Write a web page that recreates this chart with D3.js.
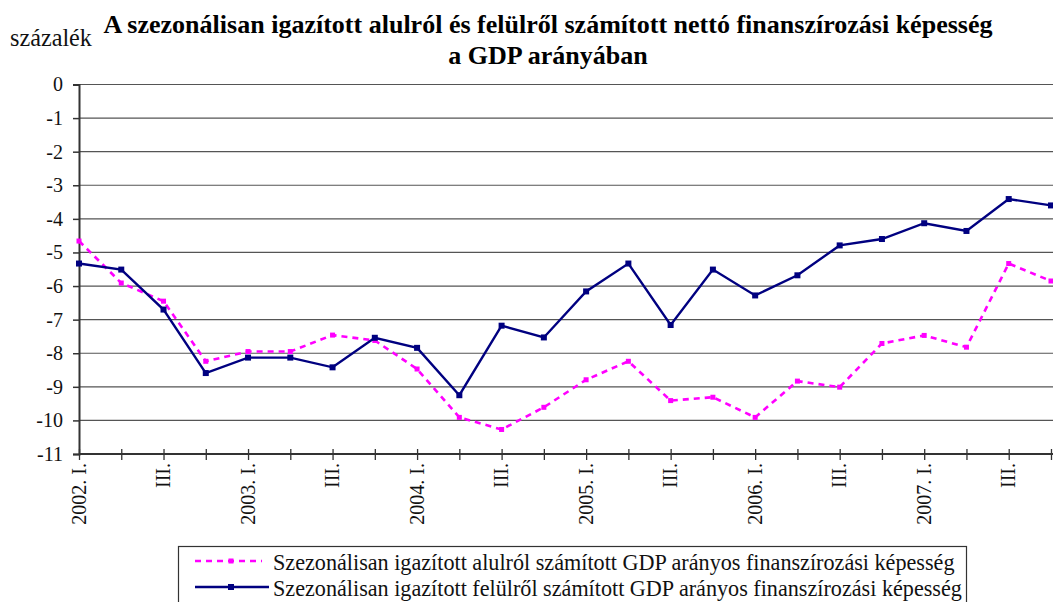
<!DOCTYPE html>
<html>
<head>
<meta charset="utf-8">
<script src="https://cdn.jsdelivr.net/npm/d3@7"></script>
<style>
  body { margin: 0; background: #fff; }
</style>
</head>
<body>
<svg width="1053" height="602" font-family="Liberation Serif, serif"></svg>
<script>
// quarters shown on the x axis
var quarters = ["2002. I.", "2002. II.", "2002. III.", "2002. IV.",
                "2003. I.", "2003. II.", "2003. III.", "2003. IV.",
                "2004. I.", "2004. II.", "2004. III.", "2004. IV.",
                "2005. I.", "2005. II.", "2005. III.", "2005. IV.",
                "2006. I.", "2006. II.", "2006. III.", "2006. IV.",
                "2007. I.", "2007. II.", "2007. III.", "2007. IV."];
var tickLabels = ["2002. I.", "", "III.", "", "2003. I.", "", "III.", "",
                  "2004. I.", "", "III.", "", "2005. I.", "", "III.", "",
                  "2006. I.", "", "III.", "", "2007. I.", "", "III.", ""];
// alulról (bottom-up), pink dashed
var bottomUp = [-4.66, -5.91, -6.45, -8.24, -7.95, -7.95, -7.46, -7.62,
                -8.47, -9.91, -10.27, -9.61, -8.79, -8.24, -9.41, -9.31,
                -9.91, -8.83, -9.01, -7.71, -7.47, -7.82, -5.33, -5.85];
// felülről (top-down), navy solid
var topDown = [-5.33, -5.51, -6.70, -8.59, -8.13, -8.13, -8.42, -7.54,
               -7.84, -9.25, -7.18, -7.53, -6.16, -5.33, -7.16, -5.51,
               -6.28, -5.68, -4.79, -4.60, -4.13, -4.36, -3.41, -3.60];
var yTicks = [0, -1, -2, -3, -4, -5, -6, -7, -8, -9, -10, -11];

var FONT = "'Liberation Serif', serif";
var svg = d3.select("svg");

var x = d3.scalePoint()
    .domain(quarters)
    .range([79, 79 + 23 * 42.26]);

var y = d3.scaleLinear()
    .domain([-11, 0])
    .range([454, 84.5]);

// shrink / grow a text so it spans the given width
function fitWidth(sel, target) {
    var fs = parseFloat(sel.attr("font-size"));
    var w = sel.node().getComputedTextLength();
    sel.attr("font-size", (fs * target / w).toFixed(2));
}

// title
var t1 = svg.append("text")
    .attr("x", 548).attr("y", 33)
    .attr("text-anchor", "middle")
    .attr("font-family", FONT)
    .attr("font-weight", "bold")
    .attr("font-size", 22)
    .text("A szezonálisan igazított alulról és felülről számított nettó finanszírozási képesség");
fitWidth(t1, 889);
svg.append("text")
    .attr("x", 548).attr("y", 64)
    .attr("text-anchor", "middle")
    .attr("font-family", FONT)
    .attr("font-weight", "bold")
    .attr("font-size", t1.attr("font-size"))
    .text("a GDP arányában");

var unit = svg.append("text")
    .attr("x", 10).attr("y", 46)
    .attr("font-family", FONT)
    .attr("font-size", 20)
    .attr("fill", "#111")
    .text("százalék");
fitWidth(unit, 82);

// horizontal grid
svg.append("g")
    .selectAll("line")
    .data(yTicks.filter(function (d) { return d > -11; }))
    .enter()
    .append("line")
    .attr("x1", 79).attr("x2", 1053)
    .attr("y1", function (d) { return y(d); })
    .attr("y2", function (d) { return y(d); })
    .style("stroke", "#555")
    .style("stroke-width", 1.2);

// y axis
var yAxis = svg.append("g")
    .attr("transform", "translate(79,0)")
    .call(d3.axisLeft(y).tickValues(yTicks).tickSize(6).tickPadding(10)
        .tickFormat(function (d) { return d; }));
yAxis.attr("font-family", FONT).attr("font-size", 20);
yAxis.select(".domain").style("stroke", "#333").style("stroke-width", 2);
yAxis.selectAll(".tick line").style("stroke", "#333").style("stroke-width", 1.5);
yAxis.selectAll(".tick text")
    .attr("fill", "#111")
    .style("font-family", FONT)
    .style("font-size", "20px");

// x axis
var xAxis = svg.append("g")
    .attr("transform", "translate(0," + y(-11) + ")")
    .call(d3.axisBottom(x).tickSize(0).tickFormat(function (d, i) { return tickLabels[i]; }));
xAxis.attr("font-family", FONT).attr("font-size", 20);
xAxis.select(".domain").attr("d", "M79,0H1053").style("stroke", "#333").style("stroke-width", 2.2);
xAxis.selectAll(".tick line").remove();
xAxis.selectAll(".tick").append("line")
    .attr("y1", -5).attr("y2", 6)
    .style("stroke", "#333").style("stroke-width", 1.3);
xAxis.selectAll(".tick text")
    .attr("fill", "#111")
    .style("font-family", FONT)
    .style("font-size", "20px")
    .attr("text-anchor", "end")
    .attr("dy", null)
    .attr("transform", "rotate(-90)")
    .attr("x", -9)
    .attr("y", 6);

// lines
var line = d3.line()
    .x(function (d, i) { return x(quarters[i]); })
    .y(function (d) { return y(d); });

svg.append("path")
    .datum(bottomUp)
    .attr("d", line)
    .style("fill", "none")
    .style("stroke", "#ff00ff")
    .style("stroke-width", 2.6)
    .style("stroke-dasharray", "6,5");

svg.append("g")
    .selectAll("rect")
    .data(bottomUp)
    .enter()
    .append("rect")
    .attr("x", function (d, i) { return x(quarters[i]) - 2.5; })
    .attr("y", function (d) { return y(d) - 2.5; })
    .attr("width", 5).attr("height", 5)
    .attr("fill", "#ff00ff");

svg.append("path")
    .datum(topDown)
    .attr("d", line)
    .style("fill", "none")
    .style("stroke", "#000080")
    .style("stroke-width", 2.4);

svg.append("g")
    .selectAll("rect")
    .data(topDown)
    .enter()
    .append("rect")
    .attr("x", function (d, i) { return x(quarters[i]) - 3; })
    .attr("y", function (d) { return y(d) - 3; })
    .attr("width", 6).attr("height", 6)
    .attr("fill", "#000080");

// legend
var legend = svg.append("g");
legend.append("rect")
    .attr("x", 178.5).attr("y", 546.5)
    .attr("width", 788).attr("height", 70)
    .attr("fill", "#fff")
    .style("stroke", "#333").style("stroke-width", 1.2);

var legendItems = [
    {name: "Szezonálisan igazított alulról számított GDP arányos finanszírozási képesség",
     color: "#ff00ff", dash: "6,5", y: 561, x2: 262, size: 5},
    {name: "Szezonálisan igazított felülről számított GDP arányos finanszírozási képesség",
     color: "#000080", dash: null, y: 587, x2: 269, size: 6}
];
legendItems.forEach(function (it) {
    legend.append("line")
        .attr("x1", 195).attr("x2", it.x2)
        .attr("y1", it.y).attr("y2", it.y)
        .style("stroke", it.color)
        .style("stroke-width", 2.6)
        .style("stroke-dasharray", it.dash);
    legend.append("rect")
        .attr("x", 231 - it.size / 2).attr("y", it.y - it.size / 2)
        .attr("width", it.size).attr("height", it.size)
        .attr("fill", it.color);
});
var lt1 = legend.append("text")
    .attr("x", 273).attr("y", 570)
    .attr("font-family", FONT)
    .attr("font-size", 20)
    .attr("fill", "#111")
    .text(legendItems[0].name);
var lt2 = legend.append("text")
    .attr("x", 273).attr("y", 596)
    .attr("font-family", FONT)
    .attr("font-size", 20)
    .attr("fill", "#111")
    .text(legendItems[1].name);
fitWidth(lt2, 689);
lt1.attr("font-size", lt2.attr("font-size"));
</script>
</body>
</html>
